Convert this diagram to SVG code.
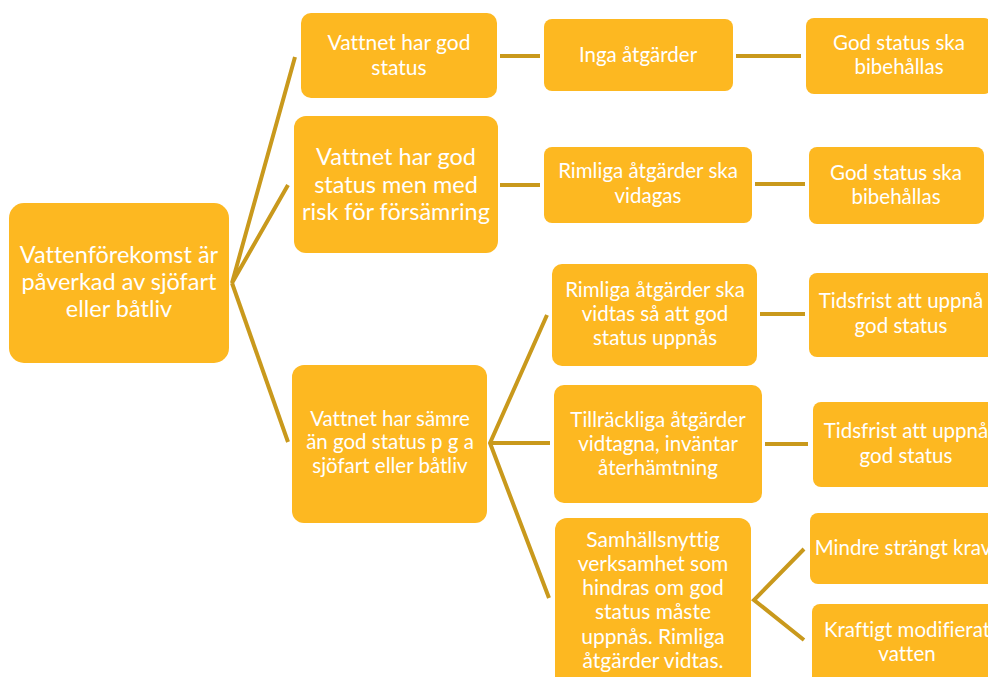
<svg xmlns="http://www.w3.org/2000/svg" width="988" height="677" viewBox="0 0 988 677">
<style>
.box{fill:#FDB821;}
.t{font-family:Lato,"Open Sans","Liberation Sans",sans-serif;fill:#FFFFFF;text-anchor:middle;font-variant-ligatures:none;}
.s19{font-size:20.5px;}
.s21{font-size:21px;}
.s22{font-size:23.5px;}
.c{stroke:#C9991C;stroke-width:4;fill:none;stroke-linecap:butt;stroke-linejoin:miter;}
</style>
<rect width="988" height="677" fill="#FFFFFF"/>
<g id="connectors">
<polyline class="c" points="295,57 232,283 288,185"/>
<line class="c" x1="232" y1="283" x2="288" y2="442"/>
<line class="c" x1="500" y1="56" x2="540" y2="56"/>
<line class="c" x1="500" y1="185" x2="540" y2="185"/>
<line class="c" x1="736" y1="56" x2="801" y2="56"/>
<line class="c" x1="755" y1="184" x2="805" y2="184"/>
<polyline class="c" points="547,315 490,443 549,598"/>
<line class="c" x1="490" y1="443" x2="550" y2="443"/>
<line class="c" x1="760" y1="314" x2="805" y2="314"/>
<line class="c" x1="765" y1="444" x2="808" y2="444"/>
<polyline class="c" points="804,549 754,600 804,640"/>
</g>
<g id="root">
<rect class="box" x="9" y="203" width="220" height="160" rx="15"/>
<text class="t s22" x="119" y="263">Vattenförekomst är</text>
<text class="t s22" x="119" y="290">påverkad av sjöfart</text>
<text class="t s22" x="119" y="317">eller båtliv</text>
</g>
<g id="n-a">
<rect class="box" x="301" y="13" width="196" height="85" rx="10"/>
<text class="t s21" x="399" y="50">Vattnet har god</text>
<text class="t s21" x="399" y="75">status</text>
</g>
<g id="n-b">
<rect class="box" x="294" y="116" width="204" height="137" rx="12"/>
<text class="t s22" x="396" y="165">Vattnet har god</text>
<text class="t s22" x="396" y="193">status men med</text>
<text class="t s22" x="396" y="220">risk för försämring</text>
</g>
<g id="n-c">
<rect class="box" x="292" y="365" width="195" height="158" rx="12"/>
<text class="t s19" x="390" y="426">Vattnet har sämre</text>
<text class="t s19" x="390" y="449">än god status p g a</text>
<text class="t s19" x="390" y="473">sjöfart eller båtliv</text>
</g>
<g id="n-a2">
<rect class="box" x="544" y="19" width="189" height="72" rx="8"/>
<text class="t s19" x="638" y="62">Inga åtgärder</text>
</g>
<g id="n-b2">
<rect class="box" x="544" y="147" width="208" height="76" rx="8"/>
<text class="t s19" x="648" y="178">Rimliga åtgärder ska</text>
<text class="t s19" x="648" y="203">vidagas</text>
</g>
<g id="n-c1">
<rect class="box" x="552" y="264" width="205" height="102" rx="10"/>
<text class="t s19" x="655" y="297">Rimliga åtgärder ska</text>
<text class="t s19" x="655" y="321">vidtas så att god</text>
<text class="t s19" x="655" y="345">status uppnås</text>
</g>
<g id="n-c2">
<rect class="box" x="554" y="385" width="208" height="118" rx="10"/>
<text class="t s19" x="658" y="427">Tillräckliga åtgärder</text>
<text class="t s19" x="658" y="451">vidtagna, inväntar</text>
<text class="t s19" x="658" y="475">återhämtning</text>
</g>
<g id="n-c3">
<rect class="box" x="555" y="518" width="196" height="175" rx="12"/>
<text class="t s21" x="653" y="547">Samhällsnyttig</text>
<text class="t s21" x="653" y="571">verksamhet som</text>
<text class="t s21" x="653" y="595">hindras om god</text>
<text class="t s21" x="653" y="619">status måste</text>
<text class="t s21" x="653" y="644">uppnås. Rimliga</text>
<text class="t s21" x="653" y="668">åtgärder vidtas.</text>
</g>
<g id="n-a3">
<rect class="box" x="806" y="18" width="186" height="76" rx="8"/>
<text class="t s19" x="899" y="50">God status ska</text>
<text class="t s19" x="899" y="74">bibehållas</text>
</g>
<g id="n-b3">
<rect class="box" x="809" y="147" width="175" height="77" rx="8"/>
<text class="t s19" x="896" y="180">God status ska</text>
<text class="t s19" x="896" y="204">bibehållas</text>
</g>
<g id="n-c1b">
<rect class="box" x="809" y="273" width="190" height="84" rx="8"/>
<text class="t s19" x="901" y="308">Tidsfrist att uppnå</text>
<text class="t s19" x="901" y="333">god status</text>
</g>
<g id="n-c2b">
<rect class="box" x="813" y="402" width="190" height="85" rx="8"/>
<text class="t s19" x="906" y="438">Tidsfrist att uppnå</text>
<text class="t s19" x="906" y="463">god status</text>
</g>
<g id="n-c3a">
<rect class="box" x="810" y="513" width="190" height="71" rx="8"/>
<text class="t s19" x="903" y="555">Mindre strängt krav</text>
</g>
<g id="n-c3b">
<rect class="box" x="812" y="604" width="190" height="90" rx="8"/>
<text class="t s19" x="907" y="637">Kraftigt modifierat</text>
<text class="t s19" x="907" y="661">vatten</text>
</g>
</svg>
